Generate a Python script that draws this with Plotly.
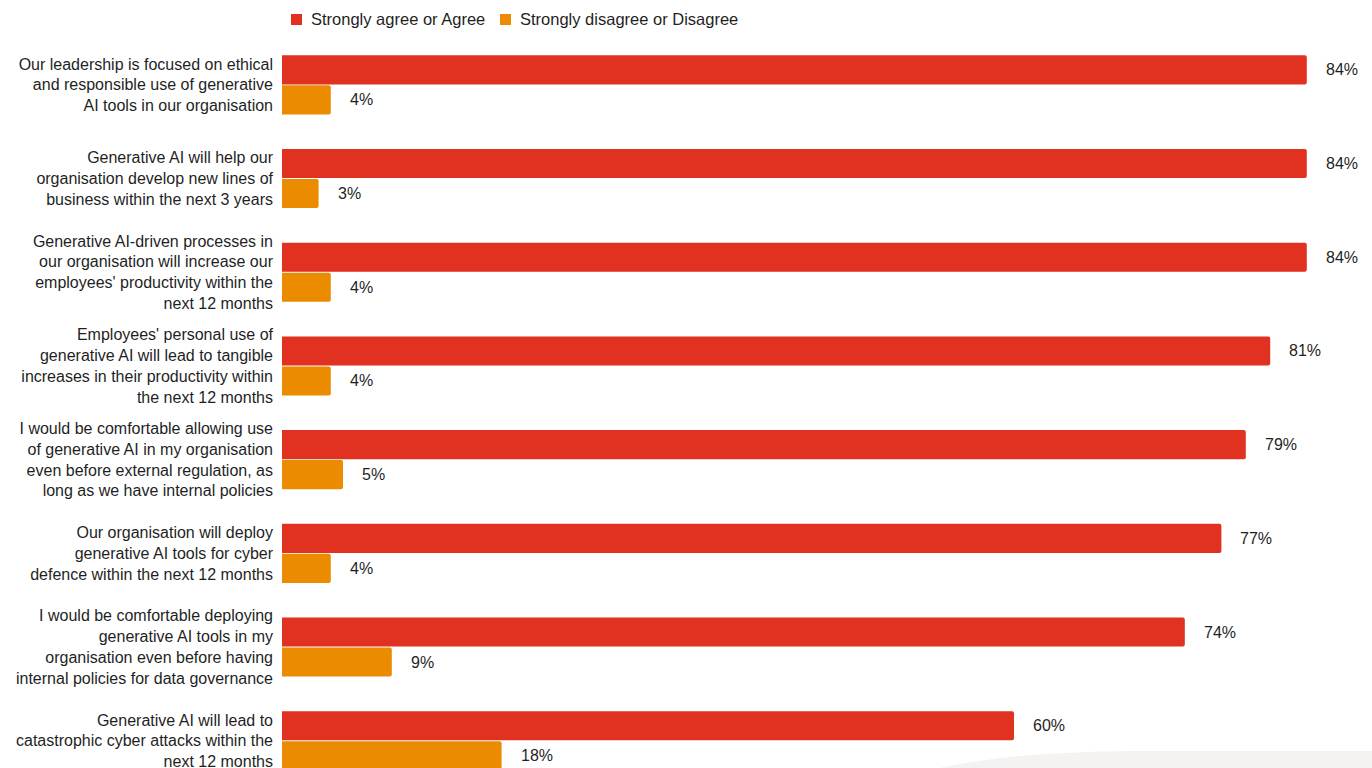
import plotly.graph_objects as go

# Survey statements (tick labels, top to bottom)
statements = [
    "Our leadership is focused on ethical<br>and responsible use of generative<br>AI tools in our organisation",
    "Generative AI will help our<br>organisation develop new lines of<br>business within the next 3 years",
    "Generative AI-driven processes in<br>our organisation will increase our<br>employees' productivity within the<br>next 12 months",
    "Employees' personal use of<br>generative AI will lead to tangible<br>increases in their productivity within<br>the next 12 months",
    "I would be comfortable allowing use<br>of generative AI in my organisation<br>even before external regulation, as<br>long as we have internal policies",
    "Our organisation will deploy<br>generative AI tools for cyber<br>defence within the next 12 months",
    "I would be comfortable deploying<br>generative AI tools in my<br>organisation even before having<br>internal policies for data governance",
    "Generative AI will lead to<br>catastrophic cyber attacks within the<br>next 12 months",
]

agree = [84, 84, 84, 81, 79, 77, 74, 60]
disagree = [4, 3, 4, 4, 5, 4, 9, 18]

series_names = ["Strongly agree or Agree", "Strongly disagree or Disagree"]

RED = "#E03121"
ORANGE = "#EB8C00"
TEXT = "#1f1f1f"
FONT = "Liberation Sans, Arial, sans-serif"

W, H = 1372, 768
ML, MT = 282, 38
plot_w = W - ML
plot_h = H - MT
band = 93.7  # pixel height of one category band
y_bottom = -0.5 + plot_h / band
x_max = plot_w / 12.2


def px(x):
    return (x - ML) / plot_w


def py(y):
    return (H - y) / plot_h


fig = go.Figure()
fig.add_trace(go.Bar(
    y=statements, x=agree, orientation="h", name=series_names[0],
    marker=dict(color=RED, line=dict(width=0)), showlegend=False,
))
fig.add_trace(go.Bar(
    y=statements, x=disagree, orientation="h", name=series_names[1],
    marker=dict(color=ORANGE, line=dict(width=0)), showlegend=False,
))

# value labels beside each bar
annotations = []
for s, a, d in zip(statements, agree, disagree):
    for val, dy in ((a, 15), (d, -15)):
        annotations.append(dict(
            x=val, y=s, xref="x", yref="y", text=f"{val}%",
            showarrow=False, xanchor="left", yanchor="middle",
            xshift=17, yshift=dy,
            font=dict(family=FONT, size=16, color=TEXT),
        ))

# legend row: square swatch followed by series name
shapes = []
legend_items = [(series_names[0], RED, 291), (series_names[1], ORANGE, 500)]
for name, color, x0 in legend_items:
    shapes.append(dict(type="rect", xref="paper", yref="paper",
                       x0=px(x0), x1=px(x0 + 11), y0=py(25), y1=py(14),
                       fillcolor=color, line=dict(width=0)))
    annotations.append(dict(
        x=px(x0 + 18), y=py(19), xref="paper", yref="paper", text=name,
        showarrow=False, xanchor="left", yanchor="middle",
        font=dict(family=FONT, size=16.5, color=TEXT),
    ))

# decorative light-grey arc in the lower right corner
arc = (f"M {px(935)},{py(769)} "
       f"Q {px(1010)},{py(752)} {px(1130)},{py(751)} "
       f"L {px(1373)},{py(751)} L {px(1373)},{py(769)} Z")
shapes.append(dict(type="path", path=arc, xref="paper", yref="paper",
                   fillcolor="#f4f3f2", line=dict(width=0), layer="below"))

fig.update_layout(
    width=W, height=H,
    margin=dict(l=ML, r=0, t=MT, b=0, autoexpand=False),
    paper_bgcolor="white", plot_bgcolor="rgba(0,0,0,0)",
    barmode="group", bargap=0.36, bargroupgap=0.03,
    barcornerradius=2,
    font=dict(family=FONT, size=16, color=TEXT),
    showlegend=False,
    xaxis=dict(range=[0, x_max], visible=False, showgrid=False,
               zeroline=False, automargin=False),
    yaxis=dict(
        range=[y_bottom, -0.5], showgrid=False, zeroline=False,
        showline=False, ticks="", ticklabelstandoff=8, automargin=False,
        tickfont=dict(family=FONT, size=16, color=TEXT),
    ),
    annotations=annotations,
    shapes=shapes,
)

fig.write_html("out.html")
